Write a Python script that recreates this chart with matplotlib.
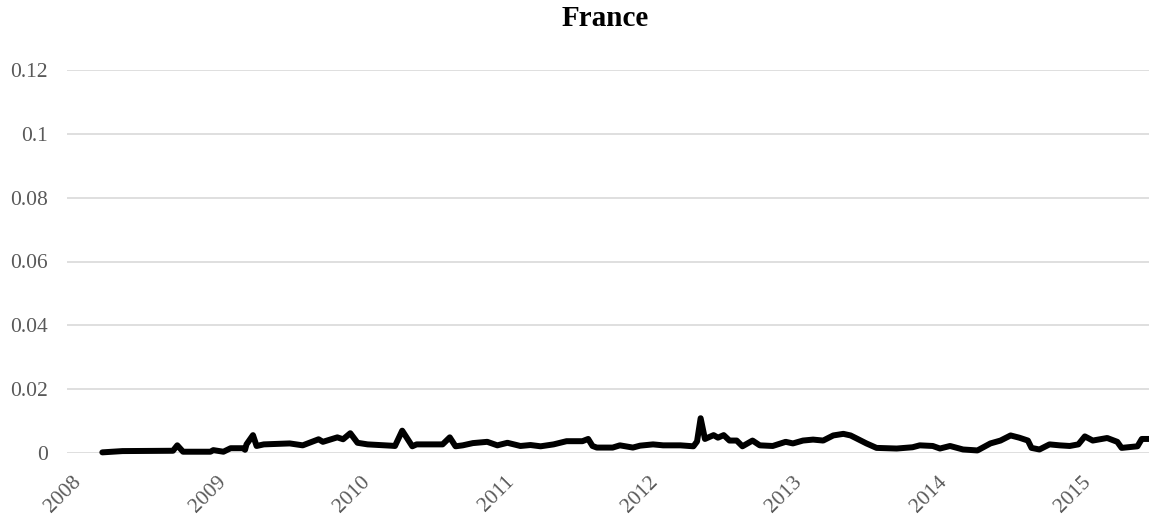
import matplotlib.pyplot as plt
import matplotlib.ticker as mticker

# dates as decimal years
years = [
    2008.21, 2008.35, 2008.70, 2008.73, 2008.77, 2008.96, 2008.98, 2009.05,
    2009.10, 2009.19, 2009.20, 2009.21, 2009.255, 2009.28, 2009.33, 2009.51,
    2009.60, 2009.71, 2009.74, 2009.84, 2009.88, 2009.93, 2009.98, 2010.05,
    2010.21, 2010.24, 2010.29, 2010.36, 2010.39, 2010.43, 2010.57, 2010.62,
    2010.66, 2010.71, 2010.78, 2010.88, 2010.95, 2011.02, 2011.11, 2011.18,
    2011.25, 2011.34, 2011.43, 2011.54, 2011.58, 2011.61, 2011.64, 2011.75,
    2011.80, 2011.89, 2011.94, 2012.03, 2012.10, 2012.22, 2012.31, 2012.335,
    2012.36, 2012.39, 2012.45, 2012.48, 2012.52, 2012.56, 2012.61, 2012.65,
    2012.72, 2012.77, 2012.86, 2012.95, 2013.00, 2013.07, 2013.14, 2013.21,
    2013.28, 2013.35, 2013.40, 2013.44, 2013.51, 2013.58, 2013.72, 2013.83,
    2013.88, 2013.97, 2014.02, 2014.09, 2014.18, 2014.28, 2014.37, 2014.44,
    2014.51, 2014.57, 2014.63, 2014.655, 2014.71, 2014.78, 2014.85, 2014.92,
    2014.98, 2015.025, 2015.08, 2015.18, 2015.25, 2015.28, 2015.39, 2015.42,
    2015.47,
]
values = [
    0.0002, 0.0006, 0.0007, 0.0024, 0.0004, 0.0004, 0.0009, 0.0004,
    0.0015, 0.0015, 0.0010, 0.0027, 0.0056, 0.0022, 0.0027, 0.0030,
    0.0024, 0.0043, 0.0035, 0.0049, 0.0043, 0.0062, 0.0032, 0.0027,
    0.0023, 0.0022, 0.0070, 0.0021, 0.0027, 0.0027, 0.0027, 0.0049,
    0.0021, 0.0024, 0.0031, 0.0035, 0.0024, 0.0032, 0.0022, 0.0025,
    0.0021, 0.0027, 0.0037, 0.0037, 0.0044, 0.0022, 0.0017, 0.0017,
    0.0024, 0.0017, 0.0023, 0.0027, 0.0024, 0.0024, 0.0021, 0.0036,
    0.0109, 0.0044, 0.0056, 0.0048, 0.0056, 0.0039, 0.0039, 0.0021,
    0.0039, 0.0024, 0.0022, 0.0035, 0.0030, 0.0039, 0.0042, 0.0039,
    0.0055, 0.0060, 0.0055, 0.0046, 0.0030, 0.0016, 0.0014, 0.0018,
    0.0024, 0.0022, 0.0014, 0.0022, 0.0011, 0.0008, 0.0030, 0.0039,
    0.0055, 0.0048, 0.0039, 0.0016, 0.0011, 0.0027, 0.0024, 0.0022,
    0.0027, 0.0052, 0.0039, 0.0047, 0.0035, 0.0016, 0.0021, 0.0044,
    0.0044,
]
year_ticks = [2008, 2009, 2010, 2011, 2012, 2013, 2014, 2015]
y_ticks = [0, 0.02, 0.04, 0.06, 0.08, 0.1, 0.12]

plt.rcParams['font.family'] = ['Liberation Serif', 'DejaVu Serif']

fig = plt.figure(figsize=(11.49, 5.18), dpi=100)
ax = fig.add_axes([67 / 1149, 65 / 518, 1 - 67 / 1149, 383 / 518])

ax.plot(years, values, color='black', linewidth=4.3,
        solid_joinstyle='round', solid_capstyle='round', clip_on=False, zorder=3)

ax.set_xlim(2007.965, 2015.47)
ax.set_ylim(0, 0.12)
ax.set_yticks(y_ticks)
ax.yaxis.set_major_formatter(mticker.FuncFormatter(lambda v, p: f'{v:g}'))
ax.set_xticks(year_ticks)
ax.set_xticklabels([str(y) for y in year_ticks], rotation=45, ha='right',
                   va='top', rotation_mode='anchor')

ax.grid(axis='y', color='#d9d9d9', linewidth=1.2)
ax.set_axisbelow(True)
for s in ax.spines.values():
    s.set_visible(False)
ax.tick_params(axis='both', length=0, labelsize=15.5, labelcolor='#595959')
ax.tick_params(axis='y', pad=14)
ax.tick_params(axis='x', pad=14)

fig.text(0.527, 0.965, 'France', ha='center', va='center',
         fontsize=21, fontweight='bold')

fig.savefig('out.png', dpi=100)
